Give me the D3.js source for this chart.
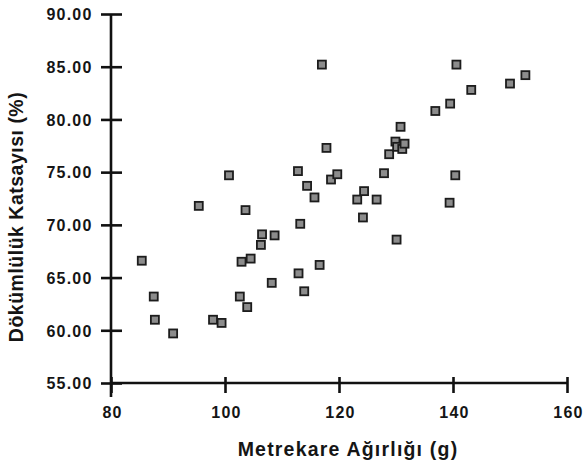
<!DOCTYPE html>
<meta charset="utf-8">
<style>
    body {
        margin: 0;
        background: white;
        font-family: "Liberation Sans", Arial, sans-serif;
    }

    .axis text {
        font-size: 16px;
        font-weight: bold;
        letter-spacing: 1.2px;
        fill: #151515;
    }

    .axis line,
    .axis-line {
        stroke: #111;
        stroke-width: 2.6px;
    }

    .title {
        font-size: 19.5px;
        font-weight: bold;
        fill: #151515;
    }

    .dot {
        fill: #8c8c8c;
        stroke: #1c1c1c;
        stroke-width: 1.8px;
    }
</style>

<body>
    <svg id="chart" width="587" height="464"></svg>

    <script src="https://cdnjs.cloudflare.com/ajax/libs/d3/7.8.5/d3.min.js"></script>
    <script>
        // values
        var weight = [85.4, 87.5, 87.7, 90.9, 95.4, 97.9, 99.4, 100.7, 102.6, 102.9,
            103.6, 103.9, 104.5, 106.3, 106.5, 108.2, 108.7, 112.8, 112.9, 113.2,
            113.9, 114.4, 115.7, 116.6, 117.0, 117.8, 118.6, 119.7, 123.2, 124.2,
            124.4, 126.6, 127.9, 128.8, 129.9, 130.2, 131.1, 131.5, 130.1, 130.8,
            136.9, 139.4, 139.5, 140.4, 140.6, 143.2, 150.0, 152.7];
        var drape = [66.6, 63.2, 61.0, 59.7, 71.8, 61.0, 60.7, 74.7, 63.2, 66.5,
            71.4, 62.2, 66.8, 68.1, 69.1, 64.5, 69.0, 75.1, 65.4, 70.1,
            63.7, 73.7, 72.6, 66.2, 85.2, 77.3, 74.3, 74.8, 72.4, 70.7,
            73.2, 72.4, 74.9, 76.7, 77.9, 77.4, 77.2, 77.7, 68.6, 79.3,
            80.8, 72.1, 81.5, 74.7, 85.2, 82.8, 83.4, 84.2];
        var xTicks = [80, 100, 120, 140, 160];
        var yTicks = [55, 60, 65, 70, 75, 80, 85, 90];

        var svg = d3.select("#chart");

        var x = d3.scaleLinear().domain([80, 160]).range([111, 567]);
        var y = d3.scaleLinear().domain([55, 90]).range([383, 14]);

        // y axis
        var gy = svg.append("g")
            .attr("class", "axis")
            .attr("transform", "translate(" + x(80) + ",0)")
            .call(d3.axisLeft(y).tickValues(yTicks).tickFormat(d3.format(".2f")).tickSize(10).tickSizeOuter(0));
        gy.select(".domain").remove();
        gy.selectAll(".tick line").attr("x1", 11);
        gy.selectAll(".tick text").attr("x", -18.5).attr("dy", "0.36em");

        // x axis
        var gx = svg.append("g")
            .attr("class", "axis")
            .attr("transform", "translate(0," + y(55) + ")")
            .call(d3.axisBottom(x).tickValues(xTicks).tickFormat(d3.format("d")).tickSize(10).tickSizeOuter(0));
        gx.select(".domain").remove();
        gx.selectAll(".tick line").attr("y1", -6);
        gx.selectAll(".tick text").attr("x", 1).attr("y", 34.5).attr("dy", 0);

        svg.append("line")
            .attr("class", "axis-line")
            .attr("x1", x(80)).attr("x2", x(80))
            .attr("y1", y(90)).attr("y2", y(55) + 14);
        svg.append("line")
            .attr("class", "axis-line")
            .attr("x1", x(80)).attr("x2", x(160))
            .attr("y1", y(55)).attr("y2", y(55));

        // points
        var data = weight.map(function (w, i) { return { w: w, d: drape[i] }; });
        svg.append("g").selectAll("rect")
            .data(data)
            .enter().append("rect")
            .attr("class", "dot")
            .attr("x", function (d) { return x(d.w) - 4; })
            .attr("y", function (d) { return y(d.d) - 4; })
            .attr("width", 8)
            .attr("height", 8);

        // titles
        svg.append("text")
            .attr("class", "title")
            .attr("text-anchor", "middle")
            .attr("letter-spacing", "1.2px")
            .attr("x", 348)
            .attr("y", 455.5)
            .text("Metrekare Ağırlığı (g)");

        svg.append("text")
            .attr("class", "title")
            .attr("text-anchor", "middle")
            .attr("letter-spacing", "0.5px")
            .attr("transform", "translate(23,217) rotate(-90)")
            .text("Dökümlülük Katsayısı (%)");
    </script>
</body>
